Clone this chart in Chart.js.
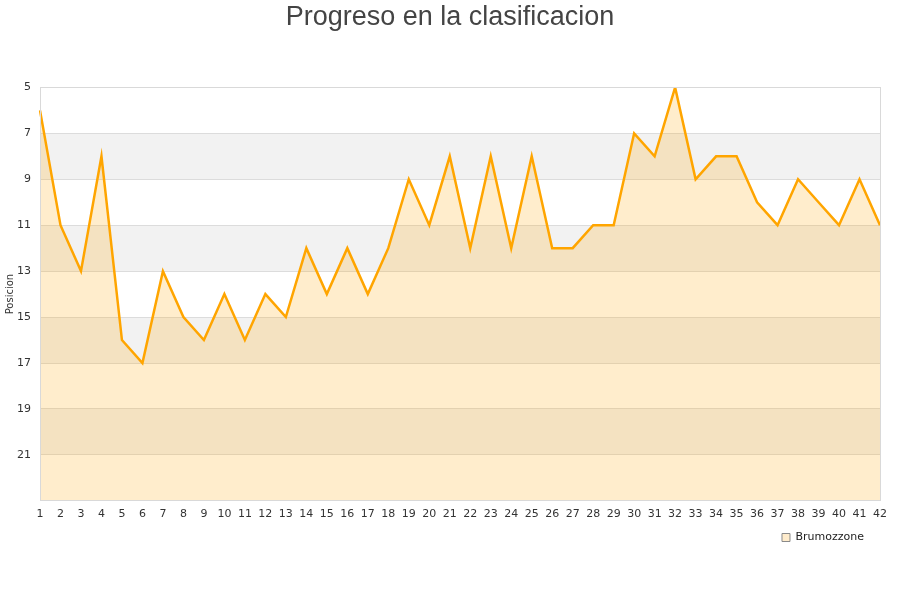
<!DOCTYPE html>
<html>
<head>
<meta charset="utf-8">
<script src="https://cdn.jsdelivr.net/npm/chart.js@4"></script>
<style>
html,body{margin:0;padding:0;background:#fff;}
#wrap{width:900px;height:600px;position:relative;}
</style>
</head>
<body>
<div id="wrap"><canvas id="c" width="900" height="600"></canvas></div>
<script>
const chartTitle = "Progreso en la clasificacion";
const yTitle = "Posicion";
const seriesName = "Brumozzone";
const jornadas = Array.from({length: 42}, (_, i) => String(i + 1));
const posiciones = [6, 11, 13, 8, 16, 17, 13, 15, 16, 14, 16, 14, 15, 12, 14, 12, 14, 12, 9, 11, 8, 12, 8, 12, 8, 12, 12, 11, 11, 7, 8, 5, 9, 8, 8, 10, 11, 9, 10, 11, 9, 11];
const yMin = 5, yMax = 23;
const bandStarts = [7, 11, 15, 19];

const bandsPlugin = {
  id: 'bands',
  beforeDraw(chart) {
    const {ctx, chartArea: a, scales: {y}} = chart;
    // re-centre title on full canvas, nudge legend left
    if (chart.titleBlock) { chart.titleBlock.left = 0; chart.titleBlock.right = chart.width; }
    if (chart.legend && !chart.legend._nudged) { chart.legend.right -= 12; chart.legend._nudged = true; }
    ctx.save();
    ctx.fillStyle = '#f2f2f2';
    bandStarts.forEach(v => {
      const p1 = y.getPixelForValue(v), p2 = y.getPixelForValue(v + 2);
      ctx.fillRect(a.left, Math.min(p1, p2), a.right - a.left, Math.abs(p2 - p1));
    });
    ctx.restore();
  },
  afterDatasetsDraw(chart) {
    const {ctx, chartArea: a} = chart;
    ctx.save();
    ctx.strokeStyle = '#d9d9d9';
    ctx.lineWidth = 1;
    ctx.strokeRect(Math.round(a.left) + 0.5, Math.round(a.top) + 0.5, Math.round(a.right - a.left), Math.round(a.bottom - a.top));
    ctx.restore();
  }
};

new Chart(document.getElementById('c'), {
  type: 'line',
  data: {
    labels: jornadas,
    datasets: [{
      label: seriesName,
      data: posiciones,
      borderColor: '#ffa500',
      backgroundColor: 'rgba(255,165,0,0.2)',
      borderWidth: 2.5,
      pointRadius: 0,
      pointHoverRadius: 0,
      tension: 0,
      fill: {value: yMax}
    }]
  },
  options: {
    responsive: false,
    animation: false,
    devicePixelRatio: 1,
    layout: {padding: {left: 0, right: 20, top: 0, bottom: 47}},
    plugins: {
      title: {
        display: true,
        text: chartTitle,
        color: '#444',
        font: {family: 'Liberation Sans, Arial, sans-serif', size: 27, weight: 'normal'},
        padding: {top: 1, bottom: 54}
      },
      legend: {
        position: 'bottom',
        align: 'end',
        labels: {
          boxWidth: 8,
          boxHeight: 8,
          color: '#222',
          font: {family: 'DejaVu Sans, sans-serif', size: 11},
          padding: 4,
          generateLabels: (chart) => {
            const items = Chart.defaults.plugins.legend.labels.generateLabels(chart);
            items.forEach(it => { it.fillStyle = '#ffeccc'; it.strokeStyle = '#8a8a8a'; it.lineWidth = 1; });
            return items;
          }
        }
      },
      tooltip: {enabled: false}
    },
    scales: {
      x: {
        offset: false,
        grid: {display: false, drawTicks: false},
        border: {display: false},
        ticks: {
          color: '#333',
          font: {family: 'DejaVu Sans, sans-serif', size: 11},
          maxRotation: 0,
          autoSkip: false,
          padding: 7
        }
      },
      y: {
        reverse: true,
        min: yMin,
        max: yMax,
        afterFit: (s) => { s.width = 40; },
        grid: {color: '#dcdcdc', drawTicks: false},
        border: {display: false},
        ticks: {
          stepSize: 2,
          color: '#333',
          font: {family: 'DejaVu Sans, sans-serif', size: 11},
          padding: 9,
          callback: (v) => v === yMax ? '' : v
        },
        title: {
          display: true,
          text: yTitle,
          color: '#333',
          font: {family: 'DejaVu Sans, sans-serif', size: 10},
          padding: {top: 4, bottom: 2}
        }
      }
    }
  },
  plugins: [bandsPlugin]
});
</script>
</body>
</html>
